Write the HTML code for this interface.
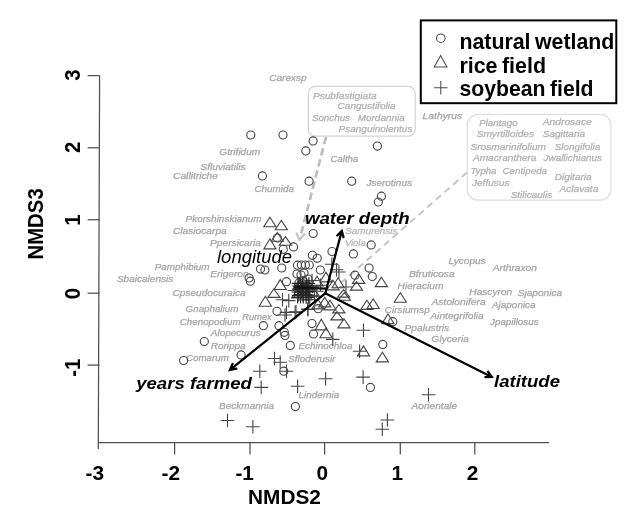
<!DOCTYPE html>
<html lang="en"><head><meta charset="utf-8"><title>NMDS ordination</title>
<style>
html,body{margin:0;padding:0;background:#fff;}
body{width:636px;height:508px;overflow:hidden;}
svg{display:block;font-family:"Liberation Sans",Arial,Helvetica,sans-serif;}
#plot{filter:blur(0.55px);}
.sp{font-size:9.2px;font-style:italic;}
.sp text{stroke-width:0.25px;}
.ax{font-size:20.8px;font-weight:bold;fill:#000;}
.env{font-size:17.2px;font-weight:bold;font-style:italic;fill:#000;}
.lg{font-size:21.2px;font-weight:bold;fill:#000;word-spacing:-1.5px;}
.sym{fill:none;stroke:#464646;stroke-width:1.12;}
.arr{fill:none;stroke:#000;stroke-width:2.25;stroke-linecap:round;stroke-linejoin:miter;}
.dash{fill:none;stroke:#c6c6c6;stroke-width:2;stroke-dasharray:7 4.5;}
</style></head><body>
<svg width="636" height="508" viewBox="0 0 636 508" role="img" aria-label="NMDS ordination plot">
<rect x="0" y="0" width="636" height="508" fill="#ffffff"/>
<g id="plot">
<g stroke="#505050" stroke-width="1.25" fill="none">
<path d="M99.6 75.6 L98.3 449"/>
<path d="M98.3 442.7 H549"/>
<path d="M87.6 75.6 H99.5"/>
<path d="M87.6 147.8 H99.5"/>
<path d="M87.6 219.7 H99.5"/>
<path d="M87.6 293.2 H99.5"/>
<path d="M87.6 365.1 H99.5"/>
<path d="M174.6 442.7 L174.6 454.5"/>
<path d="M250.0 442.7 L250.0 454.5"/>
<path d="M324.6 442.7 L324.6 454.5"/>
<path d="M400.3 442.7 L400.3 454.5"/>
<path d="M474.8 442.7 L474.8 454.5"/>
</g>
<g class="ax" text-anchor="middle">
<text x="94.8" y="479.5">-3</text>
<text x="170.8" y="479.5">-2</text>
<text x="244.7" y="479.5">-1</text>
<text x="322.3" y="479.5">0</text>
<text x="397.4" y="479.5">1</text>
<text x="472.6" y="479.5">2</text>
<text transform="translate(80.2 75.0) rotate(-90) scale(0.91 1)" style="font-size:22.4px">3</text>
<text transform="translate(80.2 147.4) rotate(-90) scale(0.91 1)" style="font-size:22.4px">2</text>
<text transform="translate(80.2 220.0) rotate(-90) scale(0.91 1)" style="font-size:22.4px">1</text>
<text transform="translate(80.2 293.6) rotate(-90) scale(0.91 1)" style="font-size:22.4px">0</text>
<text transform="translate(80.2 367.8) rotate(-90) scale(0.91 1)" style="font-size:22.4px">-1</text>
<text x="284.5" y="503.6">NMDS2</text>
<text transform="translate(43.0 223.9) rotate(-90) scale(0.91 1)" style="font-size:22.4px">NMDS3</text>
</g>
<rect x="308.4" y="86.3" width="106.8" height="49.9" rx="7" ry="7" fill="#fff" stroke="#d2d2d2" stroke-width="1.2"/>
<rect x="467.2" y="114.3" width="143.7" height="85.9" rx="11" ry="11" fill="#fff" stroke="#dedede" stroke-width="1.2"/>
<path class="dash" style="stroke:#bcbcbc;stroke-width:2.7;stroke-dasharray:7.5 4" d="M326 137 L300 238"/>
<path d="M296.2 232.5 L299.5 240 L305 233.5" fill="none" stroke="#c4c4c4" stroke-width="2"/>
<path class="dash" d="M467 172.5 L333 290"/>
<g class="sp">
<text x="269.3" y="80.5" fill="#a4a4a4" stroke="#a4a4a4" textLength="37.3" lengthAdjust="spacingAndGlyphs">Carexsp</text>
<text x="219.3" y="155.2" fill="#a4a4a4" stroke="#a4a4a4" textLength="41.0" lengthAdjust="spacingAndGlyphs">Gtrifidum</text>
<text x="200.5" y="170.3" fill="#a4a4a4" stroke="#a4a4a4" textLength="45.0" lengthAdjust="spacingAndGlyphs">Sfluviatilis</text>
<text x="173.0" y="178.8" fill="#a4a4a4" stroke="#a4a4a4" textLength="45.0" lengthAdjust="spacingAndGlyphs">Callitriche</text>
<text x="254.5" y="191.6" fill="#a4a4a4" stroke="#a4a4a4" textLength="39.4" lengthAdjust="spacingAndGlyphs">Chumida</text>
<text x="330.5" y="162.3" fill="#a4a4a4" stroke="#a4a4a4" textLength="27.7" lengthAdjust="spacingAndGlyphs">Caltha</text>
<text x="366.5" y="185.5" fill="#a4a4a4" stroke="#a4a4a4" textLength="45.4" lengthAdjust="spacingAndGlyphs">Jserotinus</text>
<text x="422.5" y="119.3" fill="#a4a4a4" stroke="#a4a4a4" textLength="39.7" lengthAdjust="spacingAndGlyphs">Lathyrus</text>
<text x="312.9" y="98.5" fill="#b0b0b0" stroke="#b0b0b0" textLength="63.7" lengthAdjust="spacingAndGlyphs">Psubfastigiata</text>
<text x="337.6" y="109.1" fill="#b0b0b0" stroke="#b0b0b0" textLength="57.9" lengthAdjust="spacingAndGlyphs">Cangustifolia</text>
<text x="311.9" y="120.5" fill="#b0b0b0" stroke="#b0b0b0" textLength="38.1" lengthAdjust="spacingAndGlyphs">Sonchus</text>
<text x="357.7" y="120.5" fill="#b0b0b0" stroke="#b0b0b0" textLength="47.1" lengthAdjust="spacingAndGlyphs">Mordannia</text>
<text x="338.6" y="132.1" fill="#b0b0b0" stroke="#b0b0b0" textLength="73.8" lengthAdjust="spacingAndGlyphs">Psanguinolentus</text>
<text x="479.2" y="125.9" fill="#b0b0b0" stroke="#b0b0b0" textLength="38.4" lengthAdjust="spacingAndGlyphs">Plantago</text>
<text x="542.8" y="124.9" fill="#b0b0b0" stroke="#b0b0b0" textLength="48.9" lengthAdjust="spacingAndGlyphs">Androsace</text>
<text x="476.7" y="136.9" fill="#b0b0b0" stroke="#b0b0b0" textLength="57.3" lengthAdjust="spacingAndGlyphs">Smyrtilloides</text>
<text x="542.8" y="136.9" fill="#b0b0b0" stroke="#b0b0b0" textLength="42.2" lengthAdjust="spacingAndGlyphs">Sagittaria</text>
<text x="470.4" y="149.5" fill="#b0b0b0" stroke="#b0b0b0" textLength="75.6" lengthAdjust="spacingAndGlyphs">Srosmarinifolium</text>
<text x="554.8" y="150.1" fill="#b0b0b0" stroke="#b0b0b0" textLength="45.4" lengthAdjust="spacingAndGlyphs">Slongifolia</text>
<text x="472.9" y="161.2" fill="#b0b0b0" stroke="#b0b0b0" textLength="63.6" lengthAdjust="spacingAndGlyphs">Amacranthera</text>
<text x="543.5" y="161.2" fill="#b0b0b0" stroke="#b0b0b0" textLength="58.5" lengthAdjust="spacingAndGlyphs">Jwallichianus</text>
<text x="470.4" y="174.1" fill="#b0b0b0" stroke="#b0b0b0" textLength="26.1" lengthAdjust="spacingAndGlyphs">Typha</text>
<text x="502.5" y="174.1" fill="#b0b0b0" stroke="#b0b0b0" textLength="44.5" lengthAdjust="spacingAndGlyphs">Centipeda</text>
<text x="554.8" y="180.1" fill="#b0b0b0" stroke="#b0b0b0" textLength="36.9" lengthAdjust="spacingAndGlyphs">Digitaria</text>
<text x="472.0" y="186.3" fill="#b0b0b0" stroke="#b0b0b0" textLength="37.4" lengthAdjust="spacingAndGlyphs">Jeffusus</text>
<text x="559.5" y="191.7" fill="#b0b0b0" stroke="#b0b0b0" textLength="38.8" lengthAdjust="spacingAndGlyphs">Aclavata</text>
<text x="510.7" y="198.0" fill="#b0b0b0" stroke="#b0b0b0" textLength="41.6" lengthAdjust="spacingAndGlyphs">Stilicaulis</text>
<text x="185.6" y="222.3" fill="#a4a4a4" stroke="#a4a4a4" textLength="76.0" lengthAdjust="spacingAndGlyphs">Pkorshinskianum</text>
<text x="173.0" y="234.4" fill="#a4a4a4" stroke="#a4a4a4" textLength="53.7" lengthAdjust="spacingAndGlyphs">Clasiocarpa</text>
<text x="210.0" y="246.3" fill="#a4a4a4" stroke="#a4a4a4" textLength="51.0" lengthAdjust="spacingAndGlyphs">Ppersicaria</text>
<text x="154.7" y="270.2" fill="#a4a4a4" stroke="#a4a4a4" textLength="54.9" lengthAdjust="spacingAndGlyphs">Pamphibium</text>
<text x="210.3" y="276.5" fill="#a4a4a4" stroke="#a4a4a4" textLength="38.3" lengthAdjust="spacingAndGlyphs">Erigeron</text>
<text x="116.9" y="282.0" fill="#a4a4a4" stroke="#a4a4a4" textLength="56.4" lengthAdjust="spacingAndGlyphs">Sbaicalensis</text>
<text x="172.5" y="295.9" fill="#a4a4a4" stroke="#a4a4a4" textLength="73.1" lengthAdjust="spacingAndGlyphs">Cpseudocuraica</text>
<text x="185.6" y="312.3" fill="#a4a4a4" stroke="#a4a4a4" textLength="52.7" lengthAdjust="spacingAndGlyphs">Gnaphalium</text>
<text x="179.8" y="324.7" fill="#a4a4a4" stroke="#a4a4a4" textLength="60.8" lengthAdjust="spacingAndGlyphs">Chenopodium</text>
<text x="242.3" y="319.6" fill="#a4a4a4" stroke="#a4a4a4" textLength="29.4" lengthAdjust="spacingAndGlyphs">Rumex</text>
<text x="210.8" y="336.4" fill="#a4a4a4" stroke="#a4a4a4" textLength="49.9" lengthAdjust="spacingAndGlyphs">Alopecurus</text>
<text x="210.8" y="348.7" fill="#a4a4a4" stroke="#a4a4a4" textLength="34.8" lengthAdjust="spacingAndGlyphs">Rorippa</text>
<text x="186.0" y="360.8" fill="#a4a4a4" stroke="#a4a4a4" textLength="42.8" lengthAdjust="spacingAndGlyphs">Comarum</text>
<text x="219.1" y="409.3" fill="#a4a4a4" stroke="#a4a4a4" textLength="55.0" lengthAdjust="spacingAndGlyphs">Beckmannia</text>
<text x="298.5" y="398.1" fill="#a4a4a4" stroke="#a4a4a4" textLength="40.7" lengthAdjust="spacingAndGlyphs">Lindernia</text>
<text x="288.2" y="361.7" fill="#a4a4a4" stroke="#a4a4a4" textLength="47.2" lengthAdjust="spacingAndGlyphs">Sfloderusir</text>
<text x="298.5" y="348.8" fill="#a4a4a4" stroke="#a4a4a4" textLength="54.0" lengthAdjust="spacingAndGlyphs">Echinochloa</text>
<text x="345.2" y="233.8" fill="#b4b4b4" stroke="#b4b4b4" textLength="52.3" lengthAdjust="spacingAndGlyphs">Samurensis</text>
<text x="344.9" y="246.4" fill="#b4b4b4" stroke="#b4b4b4" textLength="20.8" lengthAdjust="spacingAndGlyphs">Viola</text>
<text x="448.4" y="264.2" fill="#a4a4a4" stroke="#a4a4a4" textLength="37.3" lengthAdjust="spacingAndGlyphs">Lycopus</text>
<text x="492.8" y="271.0" fill="#a4a4a4" stroke="#a4a4a4" textLength="44.1" lengthAdjust="spacingAndGlyphs">Arthraxon</text>
<text x="408.9" y="276.8" fill="#a4a4a4" stroke="#a4a4a4" textLength="45.8" lengthAdjust="spacingAndGlyphs">Bfruticosa</text>
<text x="397.6" y="288.7" fill="#a4a4a4" stroke="#a4a4a4" textLength="45.8" lengthAdjust="spacingAndGlyphs">Hieracium</text>
<text x="469.3" y="294.5" fill="#a4a4a4" stroke="#a4a4a4" textLength="42.9" lengthAdjust="spacingAndGlyphs">Hascyron</text>
<text x="517.7" y="295.7" fill="#a4a4a4" stroke="#a4a4a4" textLength="44.5" lengthAdjust="spacingAndGlyphs">Sjaponica</text>
<text x="431.6" y="304.5" fill="#a4a4a4" stroke="#a4a4a4" textLength="54.1" lengthAdjust="spacingAndGlyphs">Astolonifera</text>
<text x="492.0" y="307.9" fill="#a4a4a4" stroke="#a4a4a4" textLength="43.6" lengthAdjust="spacingAndGlyphs">Ajaponica</text>
<text x="384.6" y="312.6" fill="#a4a4a4" stroke="#a4a4a4" textLength="45.2" lengthAdjust="spacingAndGlyphs">Cirsiumsp</text>
<text x="430.3" y="318.9" fill="#a4a4a4" stroke="#a4a4a4" textLength="53.4" lengthAdjust="spacingAndGlyphs">Aintegrifolia</text>
<text x="490.0" y="324.7" fill="#a4a4a4" stroke="#a4a4a4" textLength="48.6" lengthAdjust="spacingAndGlyphs">Jpapillosus</text>
<text x="404.6" y="330.5" fill="#a4a4a4" stroke="#a4a4a4" textLength="44.6" lengthAdjust="spacingAndGlyphs">Ppalustris</text>
<text x="431.6" y="342.3" fill="#a4a4a4" stroke="#a4a4a4" textLength="37.2" lengthAdjust="spacingAndGlyphs">Glyceria</text>
<text x="411.6" y="409.3" fill="#a0a0a0" stroke="#a0a0a0" textLength="45.6" lengthAdjust="spacingAndGlyphs">Aorientale</text>
</g>
<g class="sym">
<circle cx="250.8" cy="135.0" r="4.05"/>
<circle cx="283.0" cy="135.0" r="4.05"/>
<circle cx="262.4" cy="175.9" r="4.05"/>
<circle cx="313.1" cy="140.9" r="4.05"/>
<circle cx="305.8" cy="150.9" r="4.05"/>
<circle cx="377.4" cy="146.1" r="4.05"/>
<circle cx="309.1" cy="181.2" r="4.05"/>
<circle cx="351.7" cy="181.2" r="4.05"/>
<circle cx="381.4" cy="196.2" r="4.05"/>
<circle cx="378.3" cy="202.0" r="4.05"/>
<circle cx="313.2" cy="233.5" r="4.05"/>
<circle cx="293.5" cy="246.9" r="4.05"/>
<circle cx="283.3" cy="249.3" r="4.05"/>
<circle cx="332.0" cy="251.6" r="4.05"/>
<circle cx="312.4" cy="255.3" r="4.05"/>
<circle cx="317.2" cy="258.3" r="4.05"/>
<circle cx="371.2" cy="244.9" r="4.05"/>
<circle cx="353.4" cy="253.9" r="4.05"/>
<circle cx="249.1" cy="278.0" r="4.05"/>
<circle cx="250.4" cy="281.2" r="4.05"/>
<circle cx="369.1" cy="268.1" r="4.05"/>
<circle cx="372.3" cy="276.5" r="4.05"/>
<circle cx="355.0" cy="275.2" r="4.05"/>
<circle cx="392.8" cy="321.7" r="4.05"/>
<circle cx="204.3" cy="341.6" r="4.05"/>
<circle cx="183.6" cy="360.5" r="4.05"/>
<circle cx="241.1" cy="354.9" r="4.05"/>
<circle cx="277.0" cy="311.3" r="4.05"/>
<circle cx="263.4" cy="325.7" r="4.05"/>
<circle cx="279.0" cy="325.7" r="4.05"/>
<circle cx="284.3" cy="332.3" r="4.05"/>
<circle cx="285.0" cy="335.4" r="4.05"/>
<circle cx="290.3" cy="345.4" r="4.05"/>
<circle cx="318.2" cy="308.7" r="4.05"/>
<circle cx="312.0" cy="323.6" r="4.05"/>
<circle cx="313.5" cy="333.9" r="4.05"/>
<circle cx="283.8" cy="371.2" r="4.05"/>
<circle cx="382.8" cy="344.4" r="4.05"/>
<circle cx="295.4" cy="406.6" r="4.05"/>
<circle cx="370.4" cy="387.4" r="4.05"/>
<circle cx="260.5" cy="269.1" r="4.05"/>
<circle cx="264.9" cy="270.0" r="4.05"/>
<circle cx="281.7" cy="268.0" r="4.05"/>
<circle cx="297.5" cy="265.2" r="4.05"/>
<circle cx="301.4" cy="265.0" r="4.05"/>
<circle cx="305.4" cy="265.0" r="4.05"/>
<circle cx="309.3" cy="265.0" r="4.05"/>
<circle cx="320.3" cy="270.0" r="4.05"/>
<circle cx="286.5" cy="281.7" r="4.05"/>
<circle cx="277.3" cy="238.0" r="4.05"/>
<circle cx="297.0" cy="274.0" r="4.05"/>
<circle cx="301.0" cy="275.0" r="4.05"/>
<circle cx="304.0" cy="273.0" r="4.05"/>
<circle cx="299.0" cy="283.0" r="4.05"/>
<circle cx="303.0" cy="281.0" r="4.05"/>
<circle cx="308.0" cy="279.0" r="4.05"/>
<path d="M269.9 217.2 L276.0 226.8 L263.8 226.8 Z"/>
<path d="M281.3 220.4 L287.4 229.7 L275.2 229.7 Z"/>
<path d="M277.3 232.5 L283.4 241.3 L271.2 241.3 Z"/>
<path d="M285.4 236.6 L291.5 245.3 L279.2 245.3 Z"/>
<path d="M269.9 238.8 L276.0 248.9 L263.8 248.9 Z"/>
<path d="M358.6 273.8 L364.8 283.4 L352.5 283.4 Z"/>
<path d="M381.4 277.2 L387.5 286.6 L375.2 286.6 Z"/>
<path d="M356.5 281.7 L362.6 290.1 L350.4 290.1 Z"/>
<path d="M400.3 292.7 L406.4 302.3 L394.2 302.3 Z"/>
<path d="M366.9 300.2 L373.0 309.4 L360.8 309.4 Z"/>
<path d="M373.2 298.7 L379.3 308.5 L367.1 308.5 Z"/>
<path d="M388.0 314.0 L394.1 323.6 L381.9 323.6 Z"/>
<path d="M343.6 289.6 L349.8 297.1 L337.5 297.1 Z"/>
<path d="M344.4 292.7 L350.5 300.3 L338.2 300.3 Z"/>
<path d="M338.9 304.5 L345.0 312.9 L332.8 312.9 Z"/>
<path d="M337.0 311.6 L343.1 319.9 L330.9 319.9 Z"/>
<path d="M344.0 318.7 L350.1 327.9 L337.9 327.9 Z"/>
<path d="M338.1 277.8 L344.2 287.7 L332.0 287.7 Z"/>
<path d="M265.4 296.2 L271.5 306.2 L259.2 306.2 Z"/>
<path d="M321.3 319.2 L327.4 329.9 L315.2 329.9 Z"/>
<path d="M326.0 327.8 L332.1 337.7 L319.9 337.7 Z"/>
<path d="M363.5 345.9 L369.6 355.9 L357.4 355.9 Z"/>
<path d="M382.4 352.3 L388.5 361.9 L376.2 361.9 Z"/>
<path d="M280.2 279.6 L286.3 289.5 L274.1 289.5 Z"/>
<path d="M273.9 289.0 L280.0 297.4 L267.8 297.4 Z"/>
<path d="M324.7 297.4 L330.8 306.9 L318.6 306.9 Z"/>
<path d="M330.0 300.2 L336.1 309.9 L323.9 309.9 Z"/>
<path d="M318.0 299.2 L324.1 308.9 L311.9 308.9 Z"/>
<path d="M300.0 279.2 L306.1 288.9 L293.9 288.9 Z"/>
<path d="M304.0 284.2 L310.1 293.9 L297.9 293.9 Z"/>
<path d="M309.0 281.2 L315.1 290.9 L302.9 290.9 Z"/>
<path d="M313.0 286.2 L319.1 295.9 L306.9 295.9 Z"/>
<path d="M298.0 288.2 L304.1 297.9 L291.9 297.9 Z"/>
<path d="M306.0 290.2 L312.1 299.9 L299.9 299.9 Z"/>
<path d="M317.0 276.2 L323.1 285.9 L310.9 285.9 Z"/>
<path d="M326.0 272.2 L332.1 281.9 L319.9 281.9 Z"/>
<path d="M333.0 280.2 L339.1 289.9 L326.9 289.9 Z"/>
<path d="M325.0 264.2 h13.6 M331.8 257.4 v13.6"/>
<path d="M329.7 269.7 h13.6 M336.5 262.9 v13.6"/>
<path d="M332.1 272.0 h13.6 M338.9 265.2 v13.6"/>
<path d="M339.2 287.0 h13.6 M346.0 280.2 v13.6"/>
<path d="M278.2 315.0 h13.6 M285.0 308.2 v13.6"/>
<path d="M289.2 311.8 h13.6 M296.0 305.0 v13.6"/>
<path d="M301.2 309.4 h13.6 M308.0 302.6 v13.6"/>
<path d="M267.7 358.5 h13.6 M274.5 351.7 v13.6"/>
<path d="M273.4 362.2 h13.6 M280.2 355.4 v13.6"/>
<path d="M279.7 371.2 h13.6 M286.5 364.4 v13.6"/>
<path d="M356.7 330.2 h13.6 M363.5 323.4 v13.6"/>
<path d="M326.0 339.4 h13.6 M332.8 332.6 v13.6"/>
<path d="M352.8 351.2 h13.6 M359.6 344.4 v13.6"/>
<path d="M253.0 371.3 h13.6 M259.8 364.5 v13.6"/>
<path d="M254.4 387.4 h13.6 M261.2 380.6 v13.6"/>
<path d="M290.8 386.3 h13.6 M297.6 379.5 v13.6"/>
<path d="M318.8 378.8 h13.6 M325.6 372.0 v13.6"/>
<path d="M220.7 420.5 h13.6 M227.5 413.7 v13.6"/>
<path d="M246.1 426.7 h13.6 M252.9 419.9 v13.6"/>
<path d="M356.3 377.1 h13.6 M363.1 370.3 v13.6"/>
<path d="M421.7 394.7 h13.6 M428.5 387.9 v13.6"/>
<path d="M380.6 420.0 h13.6 M387.4 413.2 v13.6"/>
<path d="M375.5 429.3 h13.6 M382.3 422.5 v13.6"/>
<path d="M275.7 299.8 h13.6 M282.5 293.0 v13.6"/>
<path d="M282.0 300.6 h13.6 M288.8 293.8 v13.6"/>
<path d="M279.7 312.4 h13.6 M286.5 305.6 v13.6"/>
<path d="M288.3 312.4 h13.6 M295.1 305.6 v13.6"/>
<path d="M300.9 309.3 h13.6 M307.7 302.5 v13.6"/>
<path d="M305.7 286.5 h13.6 M312.5 279.7 v13.6"/>
<path d="M310.0 291.2 h13.6 M316.8 284.4 v13.6"/>
<path d="M313.7 285.2 h13.6 M320.5 278.4 v13.6"/>
<path d="M307.8 296.2 h13.6 M314.6 289.4 v13.6"/>
<path d="M303.0 299.5 h13.6 M309.8 292.7 v13.6"/>
<path d="M287.7 290.5 h13.6 M294.5 283.7 v13.6"/>
<path d="M305.2 280.5 h13.6 M312.0 273.7 v13.6"/>
</g>
<g fill="none" stroke="#262626" stroke-width="1.15">
<path d="M291.8 283.3 h12.4 M298.0 277.1 v12.4"/>
<path d="M292.2 286.0 h12.4 M298.4 279.8 v12.4"/>
<path d="M291.8 289.1 h12.4 M298.0 282.9 v12.4"/>
<path d="M291.5 292.0 h12.4 M297.7 285.8 v12.4"/>
<path d="M291.9 295.3 h12.4 M298.1 289.1 v12.4"/>
<path d="M291.4 297.4 h12.4 M297.6 291.2 v12.4"/>
<path d="M294.0 283.5 h12.4 M300.2 277.3 v12.4"/>
<path d="M294.6 285.5 h12.4 M300.8 279.3 v12.4"/>
<path d="M294.9 289.5 h12.4 M301.1 283.3 v12.4"/>
<path d="M294.6 292.1 h12.4 M300.8 285.9 v12.4"/>
<path d="M294.1 294.5 h12.4 M300.3 288.3 v12.4"/>
<path d="M294.4 297.2 h12.4 M300.6 291.0 v12.4"/>
<path d="M296.7 282.9 h12.4 M302.9 276.7 v12.4"/>
<path d="M296.5 286.0 h12.4 M302.7 279.8 v12.4"/>
<path d="M296.9 289.3 h12.4 M303.1 283.1 v12.4"/>
<path d="M297.0 292.1 h12.4 M303.2 285.9 v12.4"/>
<path d="M297.0 295.2 h12.4 M303.2 289.0 v12.4"/>
<path d="M297.0 297.4 h12.4 M303.2 291.2 v12.4"/>
<path d="M300.1 283.7 h12.4 M306.3 277.5 v12.4"/>
<path d="M299.9 286.2 h12.4 M306.1 280.0 v12.4"/>
<path d="M299.4 288.7 h12.4 M305.6 282.5 v12.4"/>
<path d="M299.4 291.6 h12.4 M305.6 285.4 v12.4"/>
<path d="M299.9 294.9 h12.4 M306.1 288.7 v12.4"/>
<path d="M299.9 297.5 h12.4 M306.1 291.3 v12.4"/>
<path d="M302.7 283.5 h12.4 M308.9 277.3 v12.4"/>
<path d="M301.7 285.7 h12.4 M307.9 279.5 v12.4"/>
<path d="M302.6 289.0 h12.4 M308.8 282.8 v12.4"/>
<path d="M302.7 291.9 h12.4 M308.9 285.7 v12.4"/>
<path d="M301.8 295.1 h12.4 M308.0 288.9 v12.4"/>
<path d="M302.5 297.4 h12.4 M308.7 291.2 v12.4"/>
</g>
<path class="arr" d="M325.3 293.3 L341.8 230.9 M343.5 237.1 L341.8 230.9 L337.3 235.5"/>
<path class="arr" d="M325.3 293.3 L491.8 377.0 M485.3 377.1 L491.8 377.0 L488.0 371.7"/>
<path class="arr" d="M325.3 293.3 L229.9 369.9 M232.5 363.9 L229.9 369.9 L236.3 368.7"/>
<path d="M293.5 287.4 L326 288.6" stroke="#111" stroke-width="2.2" fill="none"/>
<g class="env">
<text x="304.9" y="224.4" textLength="104.8" lengthAdjust="spacingAndGlyphs">water depth</text>
<text x="217" y="262.8" textLength="75" lengthAdjust="spacingAndGlyphs" style="font-weight:normal;font-size:18px">longitude</text>
<text x="136.2" y="389.4" textLength="115.7" lengthAdjust="spacingAndGlyphs">years farmed</text>
<text x="494" y="386.8" textLength="66" lengthAdjust="spacingAndGlyphs">latitude</text>
</g>
<rect x="420.8" y="20.4" width="195.5" height="82.8" fill="#fff" stroke="#000" stroke-width="2"/>
<g class="sym" style="stroke-width:1.05;stroke:#4a4a4a">
<circle cx="440.8" cy="38.2" r="4.3"/>
<path d="M440.6 55.6 L447 67 L434.2 67 Z"/>
<path d="M434 87.7 h13.6 M440.8 80.9 v13.6"/>
</g>
<g class="lg">
<text x="459.4" y="48.6" textLength="155" lengthAdjust="spacingAndGlyphs">natural wetland</text>
<text x="459.4" y="73.1" textLength="86.6" lengthAdjust="spacingAndGlyphs">rice field</text>
<text x="459.4" y="95.9" textLength="134.2" lengthAdjust="spacingAndGlyphs">soybean field</text>
</g>
</g>
</svg>
</body></html>
